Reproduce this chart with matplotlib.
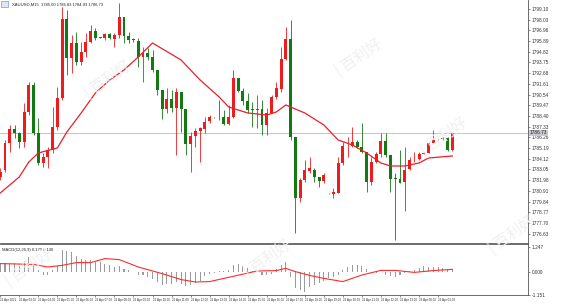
import matplotlib
matplotlib.use("Agg")
import matplotlib.pyplot as plt
from matplotlib.patches import Rectangle

# ---------------- data ----------------
opens = [1782.33, 1783.00, 1785.73, 1787.07, 1786.67, 1785.83, 1788.83, 1791.50, 1786.67, 1783.67,
         1784.33, 1785.00, 1787.33, 1790.17, 1798.07, 1794.17, 1795.67, 1793.83, 1794.83, 1795.83,
         1796.93, 1796.27, 1796.17, 1796.57, 1796.10, 1796.50, 1798.27, 1796.40, 1796.02, 1795.93,
         1794.27, 1794.67, 1794.27, 1793.00, 1791.00, 1789.07, 1790.07, 1789.17, 1790.83, 1789.07,
         1785.60, 1786.40, 1786.90, 1787.07, 1787.93, 1788.29, 1788.27, 1788.27, 1787.60, 1788.27,
         1792.17, 1790.93, 1789.93, 1789.02, 1789.00, 1789.07, 1787.50, 1788.73, 1790.27, 1791.07,
         1794.07, 1796.10, 1786.27, 1780.17, 1782.00, 1782.93, 1783.00, 1782.27, 1781.93, 1780.68,
         1780.60, 1780.73, 1783.67, 1785.57, 1785.43, 1785.83, 1785.27, 1784.83, 1781.83, 1783.83,
         1784.60, 1785.93, 1784.50, 1782.12, 1782.10, 1781.83, 1783.07, 1784.05, 1784.07, 1784.60,
         1784.73, 1785.73, 1786.05, 1786.07, 1786.23, 1785.00]
highs = [1783.17, 1786.00, 1787.50, 1787.50, 1786.83, 1789.67, 1791.83, 1791.83, 1788.17, 1784.67,
         1785.33, 1789.33, 1791.33, 1799.33, 1799.00, 1796.50, 1796.83, 1795.83, 1796.67, 1797.50,
         1797.17, 1796.33, 1796.67, 1796.67, 1796.67, 1799.67, 1798.33, 1796.83, 1796.23, 1796.17,
         1795.33, 1795.17, 1795.00, 1793.00, 1791.00, 1791.17, 1791.00, 1791.17, 1790.83, 1789.07,
         1786.83, 1787.17, 1787.33, 1788.33, 1788.50, 1788.33, 1790.00, 1789.00, 1789.50, 1793.00,
         1792.17, 1791.17, 1790.67, 1789.83, 1790.50, 1790.00, 1789.17, 1790.50, 1791.83, 1795.33,
         1797.33, 1798.00, 1786.27, 1782.17, 1784.00, 1784.33, 1783.17, 1782.33, 1782.67, 1780.73,
         1781.17, 1784.33, 1785.83, 1786.33, 1787.33, 1786.00, 1787.73, 1784.83, 1784.33, 1784.83,
         1786.73, 1786.73, 1784.50, 1782.67, 1785.00, 1785.33, 1784.33, 1784.83, 1784.83, 1784.80,
         1785.83, 1787.00, 1786.10, 1786.33, 1786.33, 1786.83]
lows = [1782.00, 1782.83, 1784.83, 1786.17, 1785.17, 1785.33, 1788.50, 1786.50, 1783.50, 1783.33,
        1783.17, 1784.67, 1787.00, 1790.00, 1792.50, 1792.67, 1793.50, 1793.50, 1794.33, 1795.67,
        1796.00, 1796.17, 1796.00, 1796.07, 1795.33, 1796.17, 1795.73, 1795.67, 1795.83, 1793.33,
        1791.83, 1794.00, 1792.83, 1790.50, 1788.07, 1788.67, 1788.83, 1784.50, 1786.83, 1784.50,
        1782.83, 1785.33, 1783.83, 1786.67, 1787.67, 1788.23, 1788.00, 1787.50, 1787.50, 1788.17,
        1790.83, 1789.50, 1788.67, 1787.33, 1787.17, 1786.50, 1786.50, 1788.67, 1790.07, 1790.83,
        1794.00, 1786.00, 1776.67, 1779.83, 1781.83, 1782.67, 1781.83, 1781.33, 1781.73, 1780.60,
        1780.17, 1780.67, 1783.50, 1784.33, 1785.33, 1785.17, 1784.67, 1780.83, 1781.50, 1783.67,
        1784.33, 1784.33, 1780.83, 1776.00, 1781.67, 1778.93, 1783.00, 1783.83, 1784.00, 1784.55,
        1784.67, 1785.67, 1786.00, 1786.00, 1784.93, 1784.93]
closes = [1782.83, 1785.73, 1787.07, 1786.67, 1785.83, 1788.83, 1791.50, 1786.67, 1783.67, 1784.33,
          1785.00, 1787.33, 1790.17, 1798.07, 1794.17, 1795.67, 1793.83, 1794.83, 1795.83, 1796.93,
          1796.17, 1796.23, 1796.57, 1796.17, 1796.50, 1798.27, 1796.40, 1796.00, 1795.98, 1794.33,
          1794.67, 1794.27, 1793.00, 1791.00, 1789.07, 1790.07, 1789.17, 1790.83, 1789.07, 1785.60,
          1786.40, 1786.90, 1787.17, 1787.83, 1788.27, 1788.27, 1788.25, 1787.60, 1788.27, 1792.17,
          1790.93, 1789.93, 1789.00, 1789.00, 1789.13, 1787.50, 1788.73, 1790.33, 1791.17, 1794.07,
          1796.07, 1786.27, 1780.17, 1782.00, 1783.00, 1783.17, 1782.27, 1781.93, 1782.50, 1780.65,
          1780.83, 1783.67, 1785.43, 1785.60, 1785.83, 1785.27, 1784.83, 1781.83, 1783.83, 1784.60,
          1785.93, 1784.50, 1782.10, 1782.08, 1781.73, 1783.00, 1784.00, 1784.08, 1784.60, 1784.73,
          1785.73, 1786.00, 1786.07, 1786.23, 1785.00, 1786.73]

ma_idx = [0, 4, 6, 8, 12, 14, 17, 20, 23, 26, 29, 32, 38, 42, 46, 48, 52, 56, 58, 60,
          64, 68, 71, 74, 77, 80, 82, 85, 88, 90, 95]
ma_val = [1780.70, 1782.30, 1783.80, 1784.70, 1785.20, 1786.80, 1788.70, 1790.70, 1792.00, 1793.00,
          1794.30, 1795.70, 1794.00, 1792.00, 1790.30, 1789.30, 1788.70, 1788.50, 1788.80, 1789.50,
          1788.70, 1787.50, 1786.00, 1785.50, 1784.70, 1783.70, 1783.40, 1783.40, 1783.70, 1784.20,
          1784.40]

macd_hist = [0.42, 0.47, 0.42, 0.47, 0.42, 0.55, 0.75, 0.42, 0.08, -0.17,
             -0.17, 0.08, 0.28, 1.08, 1.05, 1.00, 0.78, 0.67, 0.62, 0.58,
             0.50, 0.50, 0.42, 0.33, 0.25, 0.28, 0.17, 0.08, 0.02, -0.17,
             -0.17, -0.25, -0.33, -0.50, -0.67, -0.62, -0.58, -0.50, -0.58, -0.72,
             -0.63, -0.57, -0.47, -0.20, -0.10, -0.05, 0.05, 0.03, 0.08, 0.35,
             0.40, 0.30, 0.18, 0.05, 0.01, -0.13, -0.15, -0.10, 0.17, 0.35,
             0.52, -0.25, -0.82, -0.90, -0.98, -0.73, -0.65, -0.57, -0.43, -0.32,
             -0.23, -0.15, 0.10, 0.27, 0.35, 0.35, 0.30, 0.13, -0.05, -0.03,
             0.02, -0.15, -0.20, -0.23, -0.15, -0.05, 0.05, 0.10, 0.18, 0.30,
             0.27, 0.27, 0.23, 0.18, 0.13, 0.17]
sig_idx = [0, 7, 10, 13, 16, 19, 22, 25, 29, 34, 38, 41, 44, 47, 54, 58, 60, 62, 65, 68,
           72, 76, 80, 83, 87, 91, 95]
sig_val = [0.42, 0.38, 0.25, 0.33, 0.47, 0.47, 0.67, 0.62, 0.25, -0.08, -0.38, -0.50, -0.48,
           -0.32, 0.05, 0.07, 0.18, 0.02, -0.17, -0.32, -0.48, -0.15, 0.08, 0.08, -0.02, 0.07, 0.13]

price_ticks = [1799.10, 1798.03, 1796.96, 1795.89, 1794.82, 1793.75, 1792.68, 1791.61, 1790.54,
               1789.47, 1788.40, 1787.33, 1786.26, 1785.19, 1784.12, 1783.05, 1781.98, 1780.91,
               1779.84, 1778.77, 1777.70, 1776.63]
macd_ticks = [1.247, 0.0, -1.151]
time_tick_idx = [0, 4, 8, 12, 16, 20, 24, 28, 32, 36, 40, 44, 48, 52, 56, 60, 64, 68, 72, 76,
                 80, 84, 88, 92]
time_labels = ["21 Apr 2021", "22 Apr 03:00", "22 Apr 04:00", "22 Apr 05:00", "22 Apr 06:00",
               "22 Apr 07:00", "22 Apr 08:00", "22 Apr 09:00", "22 Apr 10:00", "22 Apr 11:00",
               "22 Apr 12:00", "22 Apr 13:00", "22 Apr 14:00", "22 Apr 15:00", "22 Apr 16:00",
               "22 Apr 17:00", "22 Apr 18:00", "22 Apr 19:00", "22 Apr 20:00", "22 Apr 21:00",
               "22 Apr 22:00", "22 Apr 23:00", "23 Apr 00:00", "23 Apr 01:00"]
header = "XAUUSD,M15  1785.00 1786.83 1784.93 1786.73"
macd_header = "MACD(12,26,9) 0.170 0.130"
wm_text = "| 百利好"

# ---------------- styles ----------------
UP = "#ee1c1c"
DOWN = "#137a13"
AXC = "#555555"
SMALL = ["Liberation Sans", "DejaVu Sans"]

fig = plt.figure(figsize=(5.69, 3.04), dpi=100)
fig.patch.set_facecolor("white")
ax = fig.add_axes([0.0, 0.2007, 0.928, 0.7993])
ax2 = fig.add_axes([0.0, 0.0296, 0.928, 0.1678], sharex=ax)

# watermarks
wm_pos = [(0.19, 0.74), (0.63, 0.81), (0.78, 0.55), (0.05, 0.12), (0.47, 0.15), (0.90, 0.23)]
for (wx, wy) in wm_pos:
    fig.text(wx, wy, wm_text, rotation=35, fontsize=11, color="#f0f0f0",
             family=["Noto Sans CJK SC", "DejaVu Sans"], ha="center", va="center", zorder=0)

idx = list(range(len(opens)))
colors = [UP if c >= o else DOWN for o, c in zip(opens, closes)]
bottoms = [min(o, c) for o, c in zip(opens, closes)]
heights = [max(abs(c - o), 0.07) for o, c in zip(opens, closes)]

ax.vlines(idx, lows, highs, colors=colors, linewidth=0.6, zorder=3)
ax.bar(idx, heights, bottom=bottoms, width=0.62, color=colors, linewidth=0, zorder=4)
ax.plot(ma_idx, ma_val, color="#e8202a", linewidth=0.9, zorder=5)

ax.axhline(closes[-1], color="#c4c4c4", linewidth=0.7, zorder=1)

ax.set_xlim(-0.05, 110.9)
ax.set_ylim(1775.70, 1800.00)
ax.set_facecolor("none")
ax.yaxis.tick_right()
ax.set_yticks(price_ticks)
ax.set_yticklabels([f"{v:.2f}" for v in price_ticks], family=SMALL)
ax.tick_params(axis="y", labelsize=3.4, length=1.5, width=0.4, pad=1, colors="#333333")
ax.tick_params(axis="x", bottom=False, labelbottom=False)
for s in ["top", "left"]:
    ax.spines[s].set_visible(False)
for s in ["right", "bottom"]:
    ax.spines[s].set_color(AXC)
    ax.spines[s].set_linewidth(0.6)

# current price box
ax.text(1.003, closes[-1], f"{closes[-1]:.2f}", transform=ax.get_yaxis_transform(),
        fontsize=3.4, va="center", ha="left", color="#222222", family=SMALL,
        bbox=dict(boxstyle="square,pad=0.12", fc="#c8c8d0", ec="none"), clip_on=False, zorder=6)

ax.add_patch(Rectangle((0.002, 0.972), 0.014, 0.022, transform=ax.transAxes,
                       fc="#dfe6f3", ec="#6b7fa8", lw=0.4, zorder=6))
ax.text(0.022, 0.983, header, transform=ax.transAxes, fontsize=3.0, va="center",
        ha="left", color="#222222", family=SMALL)

# MACD panel
ax2.bar(idx, macd_hist, width=0.22, color="#9a9a9a", linewidth=0, zorder=2)
ax2.plot(sig_idx, sig_val, color="#ff2b2b", linewidth=0.8, zorder=3)
ax2.set_ylim(-1.15, 1.40)
ax2.set_facecolor("none")
ax2.yaxis.tick_right()
ax2.set_yticks(macd_ticks)
ax2.set_yticklabels([f"{v:.3f}" for v in macd_ticks], family=SMALL)
ax2.tick_params(axis="y", labelsize=3.4, length=1.5, width=0.4, pad=1, colors="#333333")
ax2.set_xticks(time_tick_idx)
ax2.set_xticklabels(time_labels, family=SMALL)
ax2.tick_params(axis="x", labelsize=2.2, length=1.5, width=0.4, pad=0.8, colors="#333333")
for lbl in ax2.get_xticklabels():
    lbl.set_ha("left")
ax2.spines["left"].set_visible(False)
for s in ["top", "right", "bottom"]:
    ax2.spines[s].set_color(AXC)
    ax2.spines[s].set_linewidth(0.6)
ax2.text(0.004, 0.93, macd_header, transform=ax2.transAxes, fontsize=3.0, va="top",
         ha="left", color="#222222", family=SMALL)

fig.savefig("out.png", dpi=100)
